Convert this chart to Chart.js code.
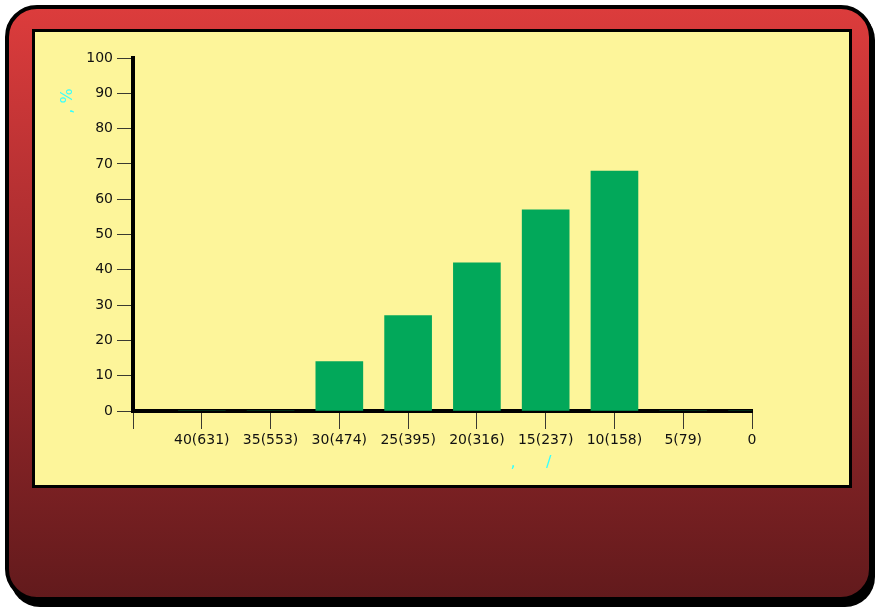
<!DOCTYPE html>
<html>
<head>
<meta charset="utf-8">
<script src="https://cdn.jsdelivr.net/npm/chart.js@4"></script>
<style>
  html, body { margin: 0; padding: 0; background: #fff; }
</style>
</head>
<body>
<canvas id="chart" width="876" height="609"></canvas>
<script>
const categories = ['', '40(631)', '35(553)', '30(474)', '25(395)', '20(316)', '15(237)', '10(158)', '5(79)', '0'];
const values = [null, 0, 0, 14, 27, 42, 57, 68, 0, 0];
const yTickValues = [0, 10, 20, 30, 40, 50, 60, 70, 80, 90, 100];
const yTitle = ', %';
const xTitle = ',      /';

// panel background: red rounded frame + yellow plot panel
const framePlugin = {
  id: 'frame',
  beforeDraw(chart) {
    const c = chart.ctx;
    c.save();
    c.fillStyle = '#fff';
    c.fillRect(0, 0, chart.width, chart.height);
    // shadow
    c.fillStyle = '#000';
    c.beginPath();
    c.roundRect(10, 10, 865, 597, 30);
    c.fill();
    const g = c.createLinearGradient(0, 7, 0, 599);
    g.addColorStop(0, '#dc3c3c');
    g.addColorStop(0.5, '#a02a2d');
    g.addColorStop(1, '#621a1c');
    c.beginPath();
    c.roundRect(7, 7, 864, 592, 30);
    c.fillStyle = g;
    c.fill();
    c.lineWidth = 4;
    c.strokeStyle = '#000';
    c.stroke();
    c.fillStyle = '#fdf59a';
    c.fillRect(33.5, 30.5, 817, 456);
    c.lineWidth = 3;
    c.strokeRect(33.5, 30.5, 817, 456);
    c.restore();
  },
  afterDraw(chart) {
    const c = chart.ctx;
    c.save();
    c.fillStyle = '#33ffff';
    c.font = '16px "DejaVu Sans", sans-serif';
    c.textAlign = 'center';
    c.textBaseline = 'middle';
    c.fillText(xTitle, 531, 463);
    c.translate(68, 101);
    c.rotate(-Math.PI / 2);
    c.fillText(yTitle, 0, 0);
    c.restore();
  }
};

const ctx = document.getElementById('chart').getContext('2d');
const chart = new Chart(ctx, {
  type: 'bar',
  data: {
    labels: categories,
    datasets: [{
      data: values,
      backgroundColor: '#02a85a',
      borderWidth: 0,
      barThickness: 47
    }]
  },
  options: {
    responsive: false,
    animation: false,
    devicePixelRatio: 1,
    layout: { padding: { left: 40, top: 58, right: 124, bottom: 138 } },
    plugins: { legend: { display: false }, tooltip: { enabled: false } },
    scales: {
      x: {
        offset: false,
        z: 1,
        grid: { offset: false, drawOnChartArea: false, tickLength: 18, color: '#3a3a30', lineWidth: 1 },
        border: { display: true, color: '#000', width: 4 },
        ticks: {
          autoSkip: false, maxRotation: 0, padding: 3, color: '#111',
          font: { family: 'DejaVu Sans', size: 14 }
        },
        afterFit(s) { s.height = 60; }
      },
      y: {
        min: 0, max: 100,
        z: 1,
        afterBuildTicks(s) { s.ticks = yTickValues.map(v => ({ value: v })); },
        grid: { drawOnChartArea: false, tickLength: 16, color: '#3a3a30', lineWidth: 1 },
        border: { display: true, color: '#000', width: 4 },
        ticks: {
          padding: 4, color: '#111',
          font: { family: 'DejaVu Sans', size: 14 }
        },
        afterFit(s) { s.width = 93; }
      }
    }
  },
  plugins: [framePlugin]
});
</script>
</body>
</html>
